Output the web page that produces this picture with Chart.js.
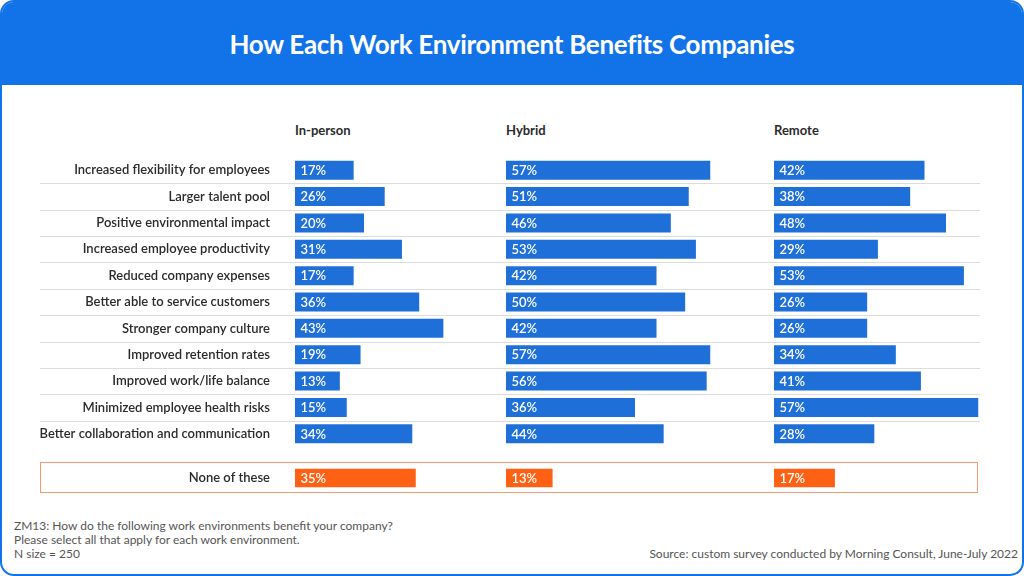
<!DOCTYPE html>
<html>
<head>
<meta charset="utf-8">
<script src="https://cdn.jsdelivr.net/npm/chart.js@4"></script>
<style>
  html, body { margin: 0; padding: 0; background: #ffffff; }
  body { width: 1024px; height: 576px; position: relative; overflow: hidden; font-family: Lato, "Open Sans", sans-serif; }
  #frame { position: absolute; left: 0; top: 0; width: 1020px; height: 572px; border: 2px solid #1273e8; border-radius: 14px; background: #fff; overflow: hidden; }
  #header { position: absolute; left: 0; top: 0; width: 100%; height: 83px; background: #1273e8; color: #fff; font-weight: 700; font-size: 26px; text-align: center; line-height: 84px; letter-spacing: -0.3px; }
  .colhead { position: absolute; top: 122px; font-size: 13px; font-weight: 700; color: #2b2b2b; }
  canvas { position: absolute; }
  #nonebox { position: absolute; left: 40px; top: 462px; width: 936px; height: 29px; border: 1.5px solid #f39a73; }
  .foot { position: absolute; font-size: 12px; color: #555; line-height: 14px; }
</style>
</head>
<body>
<div id="frame">
  <div id="header">How Each Work Environment Benefits Companies</div>
</div>
<div class="colhead" style="left:295px">In-person</div>
<div class="colhead" style="left:506px">Hybrid</div>
<div class="colhead" style="left:774px">Remote</div>
<div id="nonebox"></div>
<canvas id="c1" width="506" height="290" style="left:0px;top:157px"></canvas>
<canvas id="c2" width="268" height="290" style="left:506px;top:157px"></canvas>
<canvas id="c3" width="246" height="290" style="left:774px;top:157px"></canvas>
<canvas id="n1" width="506" height="26" style="left:0px;top:465px"></canvas>
<canvas id="n2" width="268" height="26" style="left:506px;top:465px"></canvas>
<canvas id="n3" width="246" height="26" style="left:774px;top:465px"></canvas>
<div class="foot" style="left:14px;top:519px">ZM13: How do the following work environments benefit your company?<br>Please select all that apply for each work environment.<br>N size = 250</div>
<div class="foot" style="right:6px;top:547px">Source: custom survey conducted by Morning Consult, June-July 2022</div>
<script>
const categories = [
  "Increased flexibility for employees",
  "Larger talent pool",
  "Positive environmental impact",
  "Increased employee productivity",
  "Reduced company expenses",
  "Better able to service customers",
  "Stronger company culture",
  "Improved retention rates",
  "Improved work/life balance",
  "Minimized employee health risks",
  "Better collaboration and communication"
];
const inPerson = [17, 26, 20, 31, 17, 36, 43, 19, 13, 15, 34];
const hybrid   = [57, 51, 46, 53, 42, 50, 42, 57, 56, 36, 44];
const remote   = [42, 38, 48, 29, 53, 26, 26, 34, 41, 57, 28];
const noneCategory = ["None of these"];
const noneValues = [35, 13, 17];

const BLUE = "#1f6fd8";
const ORANGE = "#ff6114";

const labelPlugin = {
  id: "valueLabels",
  afterDatasetsDraw(chart) {
    const ctx = chart.ctx;
    const meta = chart.getDatasetMeta(0);
    const data = chart.data.datasets[0].data;
    ctx.save();
    ctx.fillStyle = "#ffffff";
    ctx.font = "600 13px Lato";
    ctx.textBaseline = "middle";
    ctx.textAlign = "left";
    meta.data.forEach((bar, i) => {
      const left = Math.min(bar.base, bar.x);
      ctx.fillText(data[i] + "%", left + 5.5, bar.y + 0.5);
    });
    ctx.restore();
  }
};

const sepPlugin = {
  id: "separators",
  beforeDatasetsDraw(chart, args, opts) {
    if (!opts || opts.x0 === undefined) return;
    const y = chart.scales.y;
    const ctx = chart.ctx;
    ctx.save();
    ctx.strokeStyle = "#dcdcdc";
    ctx.lineWidth = 1;
    for (let i = 0; i < chart.data.labels.length - 1; i++) {
      const py = Math.round((y.getPixelForValue(i) + y.getPixelForValue(i + 1)) / 2) + 0.5;
      ctx.beginPath();
      ctx.moveTo(opts.x0, py);
      ctx.lineTo(opts.x1, py);
      ctx.stroke();
    }
    ctx.restore();
  }
};

function makeChart(id, labels, values, color, showLabels, padRight, sep) {
  const yScale = {
    display: showLabels,
    grid: { display: false, drawTicks: false },
    border: { display: false },
    ticks: {
      padding: 25,
      color: "#2b2b2b",
      font: { family: "Lato", size: 13, weight: "600" }
    }
  };
  if (showLabels) yScale.afterFit = (scale) => { scale.width = 295; scale.paddingTop = 0; scale.paddingBottom = 0; };
  return new Chart(document.getElementById(id), {
    type: "bar",
    data: {
      labels: labels,
      datasets: [{
        data: values,
        backgroundColor: color,
        borderWidth: 0,
        categoryPercentage: 1.0,
        barPercentage: 0.72
      }]
    },
    options: {
      indexAxis: "y",
      responsive: false,
      animation: false,
      layout: { padding: { left: 0, right: padRight, top: 0, bottom: 0 } },
      plugins: {
        legend: { display: false },
        tooltip: { enabled: false },
        separators: sep || {}
      },
      scales: {
        x: { display: false, min: 0, max: 60 },
        y: yScale
      }
    },
    plugins: [labelPlugin, sepPlugin]
  });
}

makeChart("c1", categories, inPerson, BLUE, true, 4, { x0: 40, x1: 506 });
makeChart("c2", categories, hybrid, BLUE, false, 53, { x0: 0, x1: 268 });
makeChart("c3", categories, remote, BLUE, false, 31, { x0: 0, x1: 206 });
makeChart("n1", noneCategory, [noneValues[0]], ORANGE, true, 4, null);
makeChart("n2", noneCategory, [noneValues[1]], ORANGE, false, 53, null);
makeChart("n3", noneCategory, [noneValues[2]], ORANGE, false, 31, null);
</script>
</body>
</html>
